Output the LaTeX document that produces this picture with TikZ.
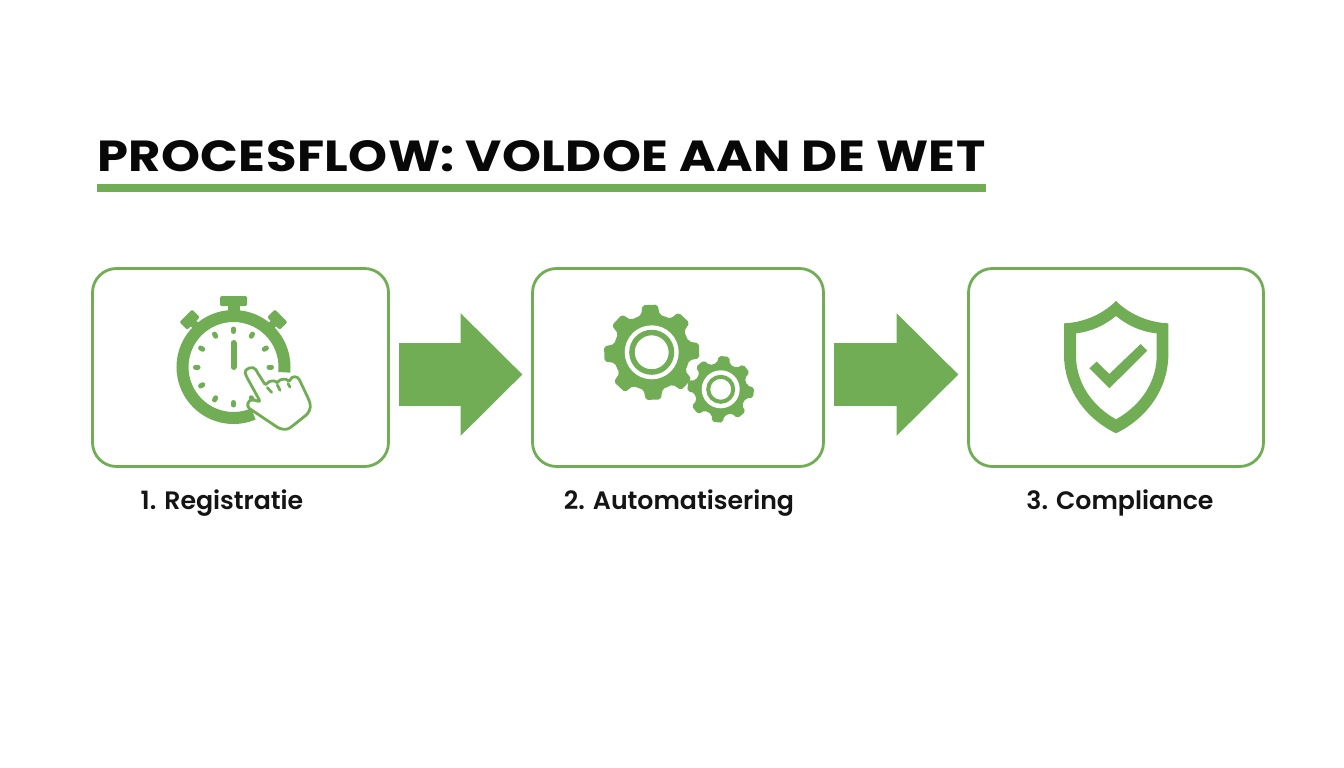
\documentclass[tikz,border=0pt]{standalone}
\usepackage{fontspec}
\setmainfont{Poppins}
\newfontfamily\titlefont[LetterSpace=1.0,FakeStretch=1.14]{Poppins}
\newfontfamily\capfont{Poppins SemiBold}
\usetikzlibrary{arrows.meta}
\definecolor{leaf}{HTML}{70AD55}
\tikzset{
  stage/.style={draw=leaf,line width=2.8pt,rounded corners=24pt,fill=white,inner sep=0pt,outer sep=0pt,minimum height=198pt},
  flowarrow/.style={leaf,line width=63pt,-{Triangle[length=62pt,width=119pt]},shorten >=10pt,shorten <=10pt},
  caption/.style={anchor=base,inner sep=0pt,font=\capfont\fontsize{25.2}{30}\selectfont,text=black!92},
  tick/.style={leaf,line width=5pt,line cap=round},
  handline/.style={leaf,line width=2.8pt,line cap=round,line join=round}
}
\newcommand{\gearicon}[7]{%
  \fill[leaf,rounded corners=2pt] (#1,#2) ++(#5-14:#4)
    \foreach \a in {0,45,...,315}{
      -- ({#1+#4*cos(\a+#5-14)},{#2+#4*sin(\a+#5-14)})
      -- ({#1+#3*cos(\a+#5-9)},{#2+#3*sin(\a+#5-9)})
      -- ({#1+#3*cos(\a+#5+9)},{#2+#3*sin(\a+#5+9)})
      -- ({#1+#4*cos(\a+#5+14)},{#2+#4*sin(\a+#5+14)})
    } -- cycle;
  \fill[white] (#1,#2) circle[radius=#6];
  \draw[leaf,line width=#7pt] (#1,#2) circle[radius={#6-0.5*#7-4.5}];
}
\begin{document}
\begin{tikzpicture}[x=1pt,y=-1pt]
\useasboundingbox[fill=white] (0,0) rectangle (1344,768);

% title
\node[anchor=base west,inner sep=0pt,font=\titlefont\fontsize{43.5}{50}\selectfont\bfseries,text=black!97] (title) at (97,171) {PROCESFLOW: VOLDOE AAN DE WET};
\fill[leaf] (97,184) rectangle (986,192);

% boxes
\node[stage,minimum width=296pt] (box1) at (240.5,367.5) {};
\node[stage,minimum width=291pt] (box2) at (678,367.5) {};
\node[stage,minimum width=295pt] (box3) at (1116,367.5) {};

% connectors
\draw[flowarrow] ([yshift=-7pt]box1.east) -- ([yshift=-7pt]box2.west);
\draw[flowarrow] ([yshift=-7pt]box2.east) -- ([yshift=-7pt]box3.west);

% captions
\node[caption] (cap1) at (222,509) {1. Registratie};
\node[caption] (cap2) at (679,509) {2. Automatisering};
\node[caption] (cap3) at (1120,509) {3. Compliance};

% stopwatch
\draw[leaf,line width=12pt] (233.5+51*cos 6,367+51*sin 6) arc[start angle=6,end angle=-293,radius=51];
\fill[leaf,rounded corners=1.5pt] (220,296) rectangle (247,306);
\fill[leaf] (228,304) rectangle (240,316);
\begin{scope}[shift={(190,320)},rotate=45]
  \fill[leaf,rounded corners=2pt] (-9,-6) rectangle (9,5);
  \fill[leaf] (-4,3) rectangle (4,11);
\end{scope}
\begin{scope}[shift={(277,320)},rotate=-45]
  \fill[leaf,rounded corners=2pt] (-9,-6) rectangle (9,5);
  \fill[leaf] (-4,3) rectangle (4,11);
\end{scope}
\foreach \a in {0,30,...,330}{
  \draw[tick] ({233.5+35.5*cos(\a)},{367+35.5*sin(\a)}) -- ({233.5+38*cos(\a)},{367+38*sin(\a)});
}
\draw[leaf,line width=6pt,line cap=round] (233.5,343) -- (233.5,367);

% hand
\begin{scope}[shift={(160,285)},x=0.3333pt,y=-0.3333pt]
  \filldraw[handline,fill=white,rounded corners=3pt]
    (258,272) .. controls (252,252) and (280,240) .. (292,262)
    -- (318,303) .. controls (325,288) and (345,285) .. (352,298)
    .. controls (358,282) and (380,280) .. (387,294)
    .. controls (395,272) and (412,272) .. (422,292)
    -- (447,345) .. controls (455,370) and (445,385) .. (430,397)
    -- (395,425) .. controls (378,436) and (360,432) .. (345,422)
    -- (275,375) .. controls (260,365) and (262,345) .. (285,345)
    -- (302,352) -- cycle;
  \draw[handline] (322,308) -- (335,322);
  \draw[handline] (352,300) -- (360,316);
  \draw[handline] (384,296) -- (390,306);
\end{scope}

% gears
\gearicon{651.7}{352.3}{48}{38.5}{-2}{27}{5.5}
\gearicon{720.7}{389.3}{33.5}{26.5}{6}{19}{4}

% shield
\begin{scope}[shift={(1050,290)},x=0.3333pt,y=-0.3333pt]
  \fill[leaf,even odd rule]
    (198,33) .. controls (240,75) and (300,98) .. (355,100)
    -- (355,200) .. controls (352,300) and (290,385) .. (198,430)
    .. controls (106,385) and (45,300) .. (42,200)
    -- (42,100) .. controls (97,98) and (156,75) .. (198,33) -- cycle
    (198,78) .. controls (165,105) and (125,125) .. (78,130)
    -- (78,205) .. controls (82,285) and (130,350) .. (198,388)
    .. controls (266,350) and (316,285) .. (320,205)
    -- (320,130) .. controls (271,125) and (231,105) .. (198,78) -- cycle;
  \fill[leaf] (118,235) -- (140,215) -- (178,252) -- (272,162) -- (292,182) -- (178,295) -- cycle;
\end{scope}
\end{tikzpicture}
\end{document}
